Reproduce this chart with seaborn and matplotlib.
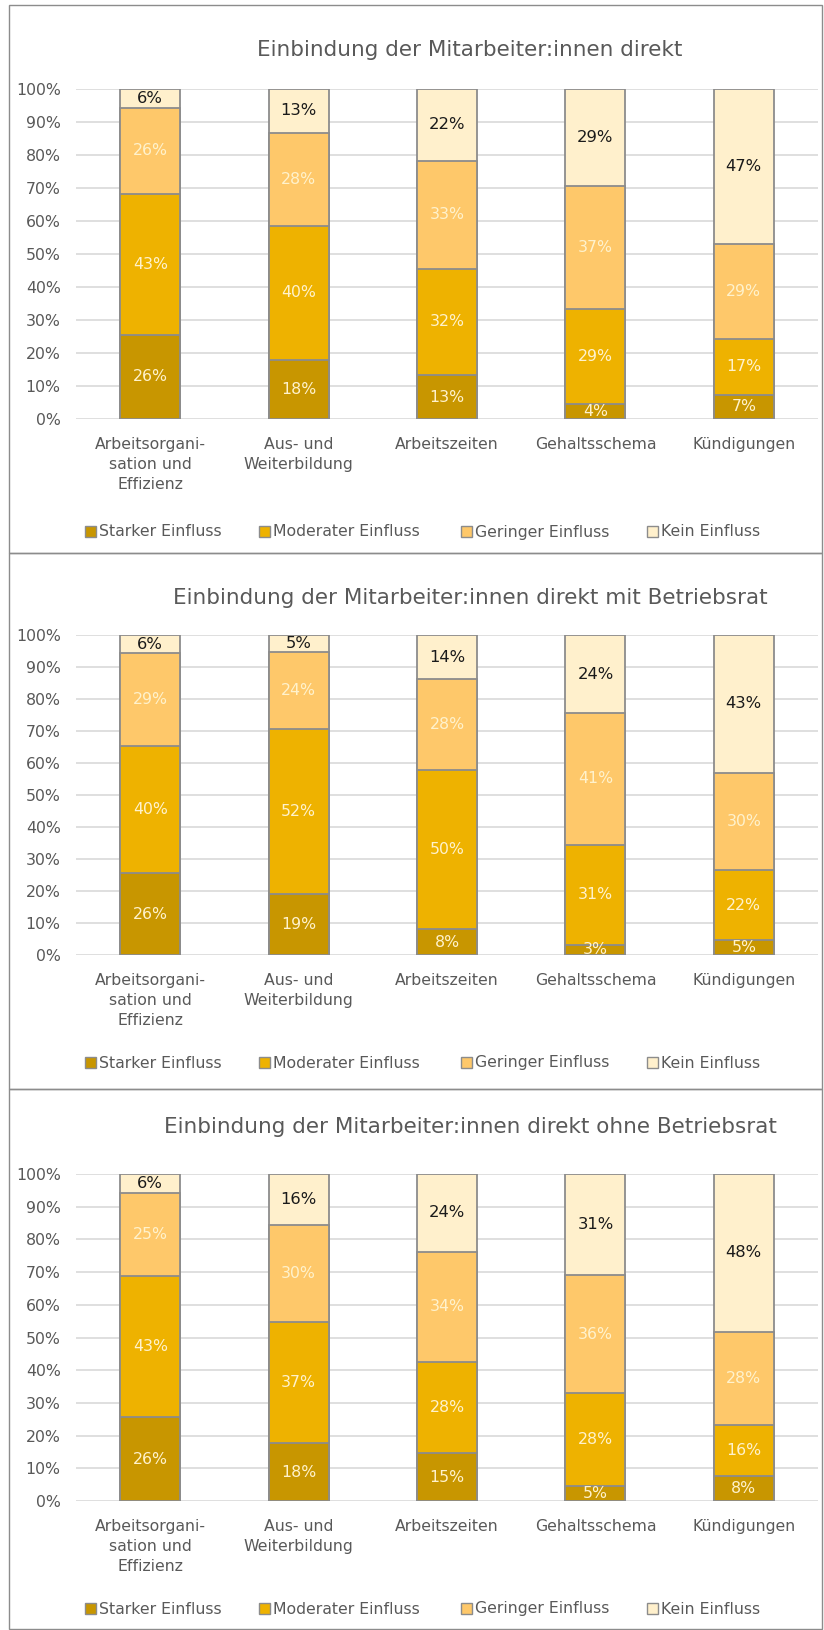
import matplotlib

matplotlib.use("Agg")
import matplotlib.pyplot as plt
from matplotlib.patches import Rectangle
import pandas as pd
import seaborn as sns

# --- data (shares in %) -----------------------------------------------------
KATEGORIEN = [
    "Arbeitsorgani-\nsation und\nEffizienz",
    "Aus- und\nWeiterbildung",
    "Arbeitszeiten",
    "Gehaltsschema",
    "Kündigungen",
]
STUFEN = ["Starker Einfluss", "Moderater Einfluss", "Geringer Einfluss", "Kein Einfluss"]

TITEL = [
    "Einbindung der Mitarbeiter:innen direkt",
    "Einbindung der Mitarbeiter:innen direkt mit Betriebsrat",
    "Einbindung der Mitarbeiter:innen direkt ohne Betriebsrat",
]

STARK_GESAMT = [25.6, 18.0, 13.2, 4.4, 7.3]
MODERAT_GESAMT = [42.6, 40.4, 32.4, 29.0, 17.0]
GERING_GESAMT = [26.1, 28.4, 32.6, 37.3, 28.7]
KEIN_GESAMT = [5.7, 13.2, 21.8, 29.3, 47.0]

STARK_MIT_BR = [25.6, 19.0, 8.1, 3.2, 4.6]
MODERAT_MIT_BR = [39.8, 51.7, 49.8, 31.3, 22.0]
GERING_MIT_BR = [28.9, 24.0, 28.2, 41.1, 30.4]
KEIN_MIT_BR = [5.7, 5.3, 13.9, 24.4, 43.0]

STARK_OHNE_BR = [25.6, 17.6, 14.6, 4.6, 7.7]
MODERAT_OHNE_BR = [43.3, 37.1, 28.0, 28.4, 15.6]
GERING_OHNE_BR = [25.2, 29.7, 33.6, 36.1, 28.4]
KEIN_OHNE_BR = [5.9, 15.6, 23.8, 30.9, 48.3]

PANELS = [
    [STARK_GESAMT, MODERAT_GESAMT, GERING_GESAMT, KEIN_GESAMT],
    [STARK_MIT_BR, MODERAT_MIT_BR, GERING_MIT_BR, KEIN_MIT_BR],
    [STARK_OHNE_BR, MODERAT_OHNE_BR, GERING_OHNE_BR, KEIN_OHNE_BR],
]

# --- style -------------------------------------------------------------------
FARBEN = ["#C89600", "#EEB200", "#FEC86A", "#FFF0CC"]
LABEL_FARBEN = ["#FFF2CC", "#FFF2CC", "#FFF2CC", "#1A1A1A"]
LABEL_GROESSE = [11.3, 11.3, 11.3, 11.8]
EDGE = "#8C8C8C"
GRAU = "#595959"
GRID = "#D9D9D9"

W, H = 824, 1630
# pixel layout per panel: (frame top, frame bottom, title y, plot top, plot bottom, legend y)
LAYOUT = [
    (5, 553, 50, 89, 419, 531),
    (553, 1089, 598, 635, 955, 1062),
    (1089, 1629, 1127, 1174, 1501, 1608),
]
AX_LEFT, AX_RIGHT = 76, 818
LEGEND_X = [85, 259, 461, 647]  # left edge of each legend key, px
KEY = 11  # legend key size, px

sns.set_theme(style="white")
plt.rcParams["font.family"] = ["DejaVu Sans"]

fig = plt.figure(figsize=(W / 100, H / 100), dpi=100)


def tidy(werte: list[list[float]]) -> pd.DataFrame:
    rows = []
    for stufe, vals in zip(STUFEN, werte):
        for kat, v in zip(KATEGORIEN, vals):
            rows.append({"kategorie": kat, "stufe": stufe, "wert": v})
    d = pd.DataFrame(rows)
    d["kum"] = d.groupby("kategorie", sort=False)["wert"].cumsum()
    return d


for (f_top, f_bot, t_y, p_top, p_bot, l_y), titel, werte in zip(LAYOUT, TITEL, PANELS):
    fig.add_artist(Rectangle(
        (9 / W, 1 - f_bot / H), (822 - 9) / W, (f_bot - f_top) / H,
        transform=fig.transFigure, fill=False, edgecolor=EDGE, lw=1,
    ))
    ax = fig.add_axes([AX_LEFT / W, 1 - p_bot / H,
                       (AX_RIGHT - AX_LEFT) / W, (p_bot - p_top) / H])
    d = tidy(werte)

    # stacked bars: draw cumulative totals from top layer down
    for stufe, farbe in reversed(list(zip(STUFEN, FARBEN))):
        sub = d[d["stufe"] == stufe]
        sns.barplot(
            data=sub, x="kategorie", y="kum", order=KATEGORIEN,
            color=farbe, saturation=1, edgecolor=EDGE, linewidth=1.3,
            width=0.404, errorbar=None, ax=ax,
        )

    for stufe, lf, lg in zip(STUFEN, LABEL_FARBEN, LABEL_GROESSE):
        sub = d[d["stufe"] == stufe]
        for i_k, (v, kum) in enumerate(zip(sub["wert"], sub["kum"])):
            ax.text(i_k, kum - v / 2, f"{int(v + 0.5)}%", ha="center", va="center",
                    fontsize=lg, color=lf, clip_on=True)

    ax.set_ylim(0, 100)
    ax.set_yticks(range(0, 101, 10))
    ax.set_yticklabels([f"{v}%" for v in range(0, 101, 10)])
    ax.set_xlim(-0.5, 4.5)
    ax.set_xlabel("")
    ax.set_ylabel("")
    ax.grid(axis="y", color=GRID, lw=1.2)
    ax.set_axisbelow(True)
    sns.despine(ax=ax, left=True, bottom=True)
    ax.tick_params(axis="y", length=0, pad=11, labelsize=11.3, labelcolor=GRAU)
    ax.tick_params(axis="x", length=0, pad=13, labelsize=11.3, labelcolor=GRAU)
    for lbl in ax.get_xticklabels():
        lbl.set_linespacing(1.4)
        lbl.set_va("top")

    fig.text(470 / W, 1 - t_y / H, titel, ha="center", va="center",
             fontsize=15.5, color=GRAU)

    # legend row: square key + label, all on one baseline
    for x, stufe, farbe in zip(LEGEND_X, STUFEN, FARBEN):
        fig.add_artist(Rectangle(
            (x / W, 1 - (l_y + KEY / 2) / H), KEY / W, KEY / H,
            transform=fig.transFigure, facecolor=farbe, edgecolor=EDGE, lw=1,
        ))
        fig.text((x + KEY + 3) / W, 1 - (l_y + 5.5) / H, stufe, ha="left",
                 va="baseline", fontsize=11.3, color=GRAU)

fig.savefig("out.png", dpi=100)
plt.close(fig)
